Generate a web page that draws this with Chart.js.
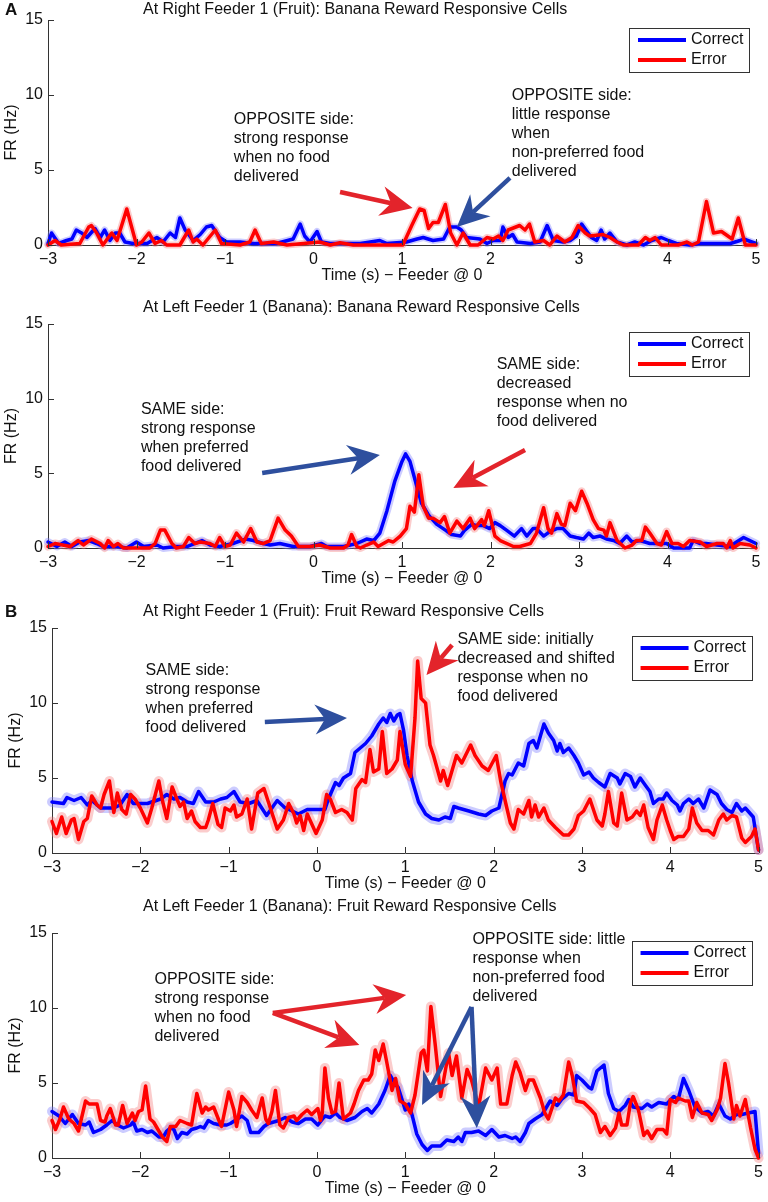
<!DOCTYPE html>
<html>
<head>
<meta charset="utf-8">
<script src="https://cdn.jsdelivr.net/npm/chart.js@4.4.1/dist/chart.umd.min.js"></script>
<style>
  body { margin: 0; background: #fff; }
  #fig { position: relative; width: 768px; height: 1202px; background: #fff; }
  #fig canvas { position: absolute; left: 0; }
</style>
</head>
<body>
<div id="fig">
  <canvas id="c1"></canvas>
  <canvas id="c2"></canvas>
  <canvas id="c3"></canvas>
  <canvas id="c4"></canvas>
</div>
<script>
// [time (s), firing rate (Hz)]
const rightBananaCorrect = [[-3,0.1],[-2.96,0.8],[-2.88,0.1],[-2.79,0.3],[-2.73,0.4],[-2.68,1.0],[-2.62,0.8],[-2.56,0.5],[-2.47,1.1],[-2.41,0.5],[-2.36,1.0],[-2.30,0.3],[-2.24,0.8],[-2.19,0.8],[-2.13,0.2],[-2.04,0.1],[-1.88,0.1],[-1.77,0.5],[-1.70,0.2],[-1.62,0.8],[-1.56,0.5],[-1.51,1.8],[-1.45,1.0],[-1.36,0.3],[-1.28,0.7],[-1.21,1.2],[-1.15,1.3],[-1.06,0.5],[-0.98,0.2],[-0.83,0.2],[-0.68,0.1],[-0.42,0.1],[-0.23,0.4],[-0.15,1.4],[-0.10,0.6],[-0.04,0.2],[0.04,0.9],[0.09,0.2],[0.19,0.1],[0.53,0.1],[0.75,0.3],[0.83,0.1],[1.05,0.2],[1.17,0.4],[1.24,0.5],[1.35,0.3],[1.47,0.4],[1.54,1.2],[1.62,1.2],[1.67,1.0],[1.73,0.5],[1.88,0.4],[1.96,0.1],[2.03,0.3],[2.11,0.3],[2.14,1.2],[2.20,0.5],[2.25,0.7],[2.30,0.2],[2.45,0.1],[2.56,0.2],[2.64,1.3],[2.71,0.3],[2.82,0.2],[2.90,0.3],[2.97,0.6],[3.03,1.4],[3.14,0.5],[3.20,0.3],[3.25,1.0],[3.29,0.4],[3.35,0.8],[3.43,0.2],[3.54,0],[3.63,0.2],[3.73,0],[3.82,0.3],[3.93,0.5],[4.01,0.3],[4.10,0.1],[4.25,0],[4.37,0.1],[4.71,0.1],[4.82,0.3],[4.86,0.4],[5,0.1]];
const rightBananaError = [[-3,0],[-2.92,0.3],[-2.85,0],[-2.64,0.1],[-2.54,1.2],[-2.51,1.3],[-2.45,0.8],[-2.38,0],[-2.28,0.8],[-2.22,0.3],[-2.11,2.4],[-2.0,0],[-1.94,0.2],[-1.86,0.8],[-1.79,0.1],[-1.72,0.3],[-1.66,0],[-1.51,0],[-1.41,1.0],[-1.36,0.2],[-1.32,0.4],[-1.25,0],[-1.11,1.0],[-1.04,0.1],[-0.83,0],[-0.72,0.2],[-0.66,1.0],[-0.59,0.1],[-0.45,0.2],[-0.30,0],[0.07,0.2],[0.19,0],[0.30,0.15],[0.45,0],[1.01,0],[1.11,1.3],[1.20,2.4],[1.25,2.3],[1.30,1.1],[1.35,1.5],[1.41,1.5],[1.49,2.7],[1.55,0.8],[1.62,0],[1.69,0.8],[1.77,0],[1.86,0],[1.96,0.5],[2.03,0.4],[2.09,0.6],[2.14,0.3],[2.20,1.0],[2.33,1.3],[2.39,1.0],[2.44,1.4],[2.50,0.2],[2.60,0.3],[2.67,0],[2.75,0.6],[2.84,0.2],[2.92,0.5],[2.99,1.3],[3.07,0.8],[3.12,0.6],[3.27,0.7],[3.35,0.5],[3.43,0.2],[3.50,0],[3.67,0],[3.75,0.5],[3.80,0.3],[3.86,0.5],[3.93,0],[4.12,0],[4.22,0.2],[4.28,0],[4.35,0.2],[4.44,2.9],[4.52,0.8],[4.61,0.9],[4.73,0.4],[4.80,1.8],[4.88,0],[5,0]];

const leftBananaCorrect = [[-3,0.4],[-2.90,0.1],[-2.81,0.4],[-2.73,0.1],[-2.64,0.4],[-2.54,0.5],[-2.45,0.3],[-2.38,0.1],[-2.22,0.1],[-2.11,0],[-2.0,0.4],[-1.92,0.1],[-1.77,0.2],[-1.70,0],[-1.55,0.1],[-1.43,0.1],[-1.26,0.5],[-1.17,0.2],[-1.06,0.1],[-0.91,0.3],[-0.77,0.6],[-0.68,0.5],[-0.57,0.3],[-0.49,0.2],[-0.38,0.3],[-0.23,0.1],[-0.04,0.1],[0.09,0.3],[0.15,0.1],[0.34,0.1],[0.49,0.3],[0.60,0.6],[0.68,0.5],[0.75,1.0],[0.83,2.5],[0.92,4.5],[1.0,5.8],[1.04,6.3],[1.09,5.8],[1.15,4.5],[1.22,3.0],[1.30,2.2],[1.39,1.6],[1.49,1.2],[1.56,0.9],[1.66,0.8],[1.71,1.2],[1.79,1.6],[1.84,1.5],[1.92,1.5],[1.99,1.3],[2.05,1.7],[2.11,1.5],[2.18,1.2],[2.27,0.8],[2.35,1.3],[2.41,0.8],[2.48,1.3],[2.52,1.3],[2.60,0.8],[2.67,1.1],[2.75,1.3],[2.82,1.3],[2.90,0.8],[2.97,0.7],[3.05,0.6],[3.11,1.0],[3.16,0.7],[3.24,0.8],[3.31,0.6],[3.39,0.5],[3.46,0.3],[3.54,0.8],[3.60,0.4],[3.69,0.5],[3.80,0.3],[3.92,0.3],[3.99,0.3],[4.07,0],[4.25,0],[4.29,0.5],[4.37,0.3],[4.44,0.3],[4.56,0.2],[4.71,0.1],[4.78,0.4],[4.86,0.7],[5,0.3]];
const leftBananaError = [[-3,0.1],[-2.92,0.3],[-2.75,0.1],[-2.66,0.5],[-2.60,0.2],[-2.51,0.6],[-2.41,0.3],[-2.36,0],[-2.32,0.5],[-2.26,0.1],[-2.21,0.3],[-2.15,0],[-1.85,0],[-1.79,0.3],[-1.73,1.2],[-1.68,1.2],[-1.60,0.3],[-1.55,0],[-1.47,0.1],[-1.41,0.7],[-1.34,0.3],[-1.28,0.4],[-1.17,0.3],[-1.11,0.1],[-1.06,0.7],[-1.0,0.1],[-0.94,0.2],[-0.87,1.0],[-0.79,0.4],[-0.71,1.3],[-0.64,0.4],[-0.57,0.3],[-0.49,0.5],[-0.40,2.0],[-0.32,1.2],[-0.25,0.8],[-0.17,0.1],[-0.04,0.1],[0.07,0.2],[0.19,0],[0.34,0],[0.39,0.2],[0.43,0.9],[0.49,0.1],[0.53,0],[0.60,0.2],[0.68,0.4],[0.73,0.1],[0.85,0.5],[0.90,0.4],[0.98,0.8],[1.05,1.3],[1.09,2.8],[1.14,2.4],[1.19,4.9],[1.24,2.8],[1.30,2.0],[1.35,2.0],[1.43,1.7],[1.48,2.1],[1.54,1.0],[1.62,1.8],[1.69,1.3],[1.77,2.0],[1.82,1.3],[1.90,1.9],[1.93,1.5],[1.98,2.5],[2.05,0.8],[2.11,0.5],[2.26,0.1],[2.33,0.1],[2.45,0.3],[2.52,1.0],[2.60,2.7],[2.65,1.3],[2.69,1.0],[2.75,2.3],[2.80,1.6],[2.84,1.5],[2.90,3.0],[2.96,2.5],[3.03,3.8],[3.09,3.0],[3.16,1.9],[3.22,1.3],[3.28,1.2],[3.31,0.8],[3.35,1.7],[3.43,0.5],[3.52,0],[3.60,0.2],[3.65,0.5],[3.71,0.5],[3.75,1.4],[3.80,1.0],[3.88,0.3],[3.93,0.2],[3.99,1.1],[4.05,0.3],[4.12,0.3],[4.18,0.1],[4.25,0.5],[4.37,0.4],[4.44,0.1],[4.56,0.3],[4.63,0.3],[4.67,0],[4.71,0.5],[4.74,0],[4.82,0.3],[4.93,0.2],[5,0]];

const rightFruitCorrect = [[-3,3.4],[-2.87,3.3],[-2.83,3.7],[-2.75,3.5],[-2.67,3.7],[-2.60,3.2],[-2.55,3.5],[-2.45,3.0],[-2.30,3.0],[-2.23,3.2],[-2.15,3.9],[-2.08,3.3],[-1.92,3.3],[-1.77,3.6],[-1.70,3.9],[-1.62,3.6],[-1.55,3.7],[-1.47,3.4],[-1.40,3.3],[-1.34,4.1],[-1.26,3.4],[-1.17,3.4],[-1.09,3.6],[-1.02,3.7],[-0.94,4.1],[-0.87,3.4],[-0.77,3.3],[-0.68,3.5],[-0.57,2.5],[-0.45,3.5],[-0.36,3.0],[-0.28,2.8],[-0.21,2.6],[-0.11,2.9],[0.04,2.9],[0.09,2.9],[0.13,3.6],[0.21,4.7],[0.25,4.5],[0.30,5.0],[0.38,5.3],[0.43,6.7],[0.49,7.0],[0.55,7.3],[0.62,7.8],[0.66,8.2],[0.70,8.6],[0.75,9.0],[0.79,8.7],[0.83,9.3],[0.87,8.8],[0.91,9.2],[0.94,9.3],[0.98,8.2],[1.02,6.5],[1.08,4.8],[1.15,3.4],[1.23,2.6],[1.30,2.3],[1.38,2.2],[1.45,2.4],[1.51,2.3],[1.55,3.1],[1.60,3.0],[1.72,2.8],[1.83,2.6],[1.91,2.5],[1.98,2.8],[2.06,3.0],[2.13,4.8],[2.17,5.3],[2.21,5.2],[2.28,6.0],[2.34,5.8],[2.40,7.3],[2.45,7.5],[2.49,7.0],[2.53,7.8],[2.57,8.6],[2.62,8.0],[2.68,7.5],[2.72,6.8],[2.75,7.3],[2.79,6.7],[2.85,7.0],[2.91,6.5],[2.96,6.0],[3.02,5.2],[3.08,5.4],[3.13,5.0],[3.19,4.7],[3.26,4.4],[3.32,5.3],[3.40,5.0],[3.43,4.6],[3.49,5.3],[3.55,5.1],[3.60,4.4],[3.66,5.0],[3.72,4.5],[3.77,4.1],[3.81,3.3],[3.87,3.6],[3.92,3.6],[3.96,4.0],[4.02,3.5],[4.08,3.2],[4.11,2.8],[4.15,3.3],[4.21,3.6],[4.26,3.3],[4.32,3.6],[4.38,3.0],[4.45,4.2],[4.53,3.9],[4.58,3.3],[4.64,2.9],[4.70,2.7],[4.75,3.3],[4.81,2.8],[4.85,3.0],[4.94,2.4],[5,0.2]];
const rightFruitError = [[-3,2.1],[-2.95,1.3],[-2.89,2.4],[-2.84,1.3],[-2.78,2.2],[-2.75,2.3],[-2.70,0.9],[-2.64,2.1],[-2.60,2.3],[-2.55,3.8],[-2.49,3.2],[-2.45,3.0],[-2.41,3.9],[-2.35,4.8],[-2.30,2.7],[-2.26,4.0],[-2.21,2.9],[-2.16,2.6],[-2.11,3.9],[-2.06,3.6],[-2.0,3.0],[-1.92,2.0],[-1.87,3.0],[-1.79,4.8],[-1.75,3.5],[-1.70,2.3],[-1.64,4.4],[-1.60,3.8],[-1.55,3.1],[-1.51,3.4],[-1.47,2.3],[-1.42,2.8],[-1.38,2.1],[-1.32,1.7],[-1.26,1.7],[-1.23,2.2],[-1.18,3.3],[-1.12,1.9],[-1.08,1.7],[-1.04,3.0],[-0.98,2.8],[-0.94,3.2],[-0.91,2.4],[-0.85,2.6],[-0.79,3.6],[-0.74,1.6],[-0.67,4.0],[-0.60,4.3],[-0.55,3.4],[-0.45,1.6],[-0.38,2.2],[-0.32,3.3],[-0.26,2.6],[-0.23,2.0],[-0.19,2.5],[-0.15,1.5],[-0.11,2.6],[-0.01,1.3],[0.06,2.2],[0.11,3.9],[0.15,3.6],[0.21,2.7],[0.28,2.9],[0.34,2.7],[0.40,2.2],[0.44,4.3],[0.51,4.9],[0.55,4.7],[0.60,6.9],[0.64,5.4],[0.70,5.6],[0.74,8.1],[0.79,5.3],[0.85,5.6],[0.91,6.2],[0.94,8.1],[1.0,5.9],[1.06,5.1],[1.11,9.0],[1.14,12.8],[1.18,10.3],[1.23,10.0],[1.28,7.2],[1.32,6.5],[1.40,4.8],[1.43,5.5],[1.48,4.5],[1.58,6.5],[1.64,6.0],[1.74,7.2],[1.79,6.5],[1.87,5.8],[1.94,5.5],[2.03,6.5],[2.08,4.8],[2.15,3.0],[2.19,2.0],[2.23,1.6],[2.28,2.9],[2.34,2.6],[2.40,3.5],[2.43,2.4],[2.47,3.2],[2.51,2.4],[2.57,3.0],[2.62,2.2],[2.70,1.7],[2.79,1.2],[2.85,1.2],[2.91,1.6],[2.96,2.5],[3.02,2.8],[3.09,3.6],[3.17,2.2],[3.23,1.8],[3.26,2.6],[3.30,4.1],[3.36,2.0],[3.40,1.8],[3.45,4.0],[3.51,2.2],[3.57,2.4],[3.62,2.8],[3.66,2.5],[3.70,3.2],[3.75,1.7],[3.81,0.9],[3.85,2.2],[3.91,3.2],[3.96,2.2],[4.0,1.5],[4.04,0.9],[4.09,1.1],[4.15,1.1],[4.21,1.6],[4.25,3.0],[4.30,2.0],[4.36,1.5],[4.43,1.5],[4.49,1.2],[4.55,2.2],[4.60,2.6],[4.64,2.2],[4.70,2.5],[4.75,2.4],[4.81,1.0],[4.85,0.7],[4.92,1.1],[4.96,1.6],[5,0.2]];

const leftFruitCorrect = [[-3,3.1],[-2.92,2.8],[-2.85,2.3],[-2.77,2.9],[-2.70,2.3],[-2.62,2.2],[-2.58,2.4],[-2.53,1.7],[-2.45,1.9],[-2.38,2.2],[-2.32,2.5],[-2.26,2.2],[-2.19,2.0],[-2.11,2.2],[-2.08,2.4],[-2.04,1.8],[-1.98,1.9],[-1.92,1.7],[-1.87,1.8],[-1.79,1.4],[-1.74,1.4],[-1.70,1.8],[-1.66,2.0],[-1.62,1.9],[-1.58,1.3],[-1.53,1.7],[-1.47,1.6],[-1.42,1.9],[-1.36,2.0],[-1.32,2.1],[-1.28,2.0],[-1.23,2.5],[-1.17,2.3],[-1.09,2.2],[-1.02,2.2],[-0.98,2.3],[-0.85,2.8],[-0.79,2.5],[-0.75,1.7],[-0.66,1.7],[-0.60,2.1],[-0.55,2.3],[-0.43,2.5],[-0.36,2.7],[-0.28,2.4],[-0.21,2.3],[-0.13,2.6],[-0.06,2.6],[0.01,2.2],[0.09,2.8],[0.15,2.7],[0.21,3.0],[0.26,2.7],[0.34,2.5],[0.43,2.7],[0.51,3.1],[0.57,3.3],[0.62,3.0],[0.70,3.6],[0.77,4.5],[0.83,5.5],[0.89,4.9],[0.92,4.7],[1.0,3.2],[1.04,3.6],[1.08,2.8],[1.13,1.6],[1.19,0.9],[1.25,0.5],[1.30,0.8],[1.40,0.8],[1.47,1.2],[1.55,1.1],[1.60,1.4],[1.64,1.1],[1.68,1.7],[1.75,1.7],[1.83,1.8],[1.91,1.5],[1.98,1.9],[2.06,1.4],[2.13,1.5],[2.21,1.3],[2.25,1.4],[2.30,1.1],[2.36,1.7],[2.40,2.3],[2.47,2.6],[2.55,2.9],[2.60,3.4],[2.64,3.8],[2.72,3.5],[2.77,3.9],[2.85,4.3],[2.91,4.2],[2.94,5.5],[3.0,5.2],[3.08,4.7],[3.11,4.6],[3.17,5.8],[3.25,6.2],[3.30,4.3],[3.36,3.3],[3.42,3.1],[3.49,3.5],[3.53,3.9],[3.58,3.4],[3.68,3.3],[3.74,3.6],[3.79,3.4],[3.87,3.7],[3.96,3.6],[4.04,4.1],[4.09,3.9],[4.15,5.3],[4.21,4.5],[4.28,3.4],[4.36,3.0],[4.43,3.1],[4.49,2.8],[4.55,3.6],[4.62,2.8],[4.68,2.6],[4.75,2.9],[4.81,2.9],[4.96,3.1],[5,0.3]];
const leftFruitError = [[-3,2.5],[-2.96,1.9],[-2.91,2.6],[-2.87,3.4],[-2.81,2.6],[-2.75,2.3],[-2.70,1.8],[-2.62,3.8],[-2.58,3.6],[-2.49,3.6],[-2.45,2.5],[-2.40,2.4],[-2.38,2.8],[-2.34,3.3],[-2.28,2.2],[-2.25,2.2],[-2.20,3.5],[-2.15,2.3],[-2.09,3.0],[-2.06,2.5],[-2.02,3.1],[-1.98,3.2],[-1.94,4.8],[-1.89,2.6],[-1.85,2.4],[-1.79,1.8],[-1.75,1.4],[-1.70,1.1],[-1.66,2.1],[-1.60,2.1],[-1.55,2.5],[-1.47,2.3],[-1.42,2.2],[-1.36,4.3],[-1.30,3.0],[-1.26,3.4],[-1.23,3.2],[-1.17,3.4],[-1.11,2.5],[-1.08,2.1],[-1.0,4.4],[-0.94,3.2],[-0.91,2.1],[-0.85,4.1],[-0.79,3.7],[-0.74,3.2],[-0.68,2.7],[-0.62,4.0],[-0.58,2.6],[-0.55,2.3],[-0.51,3.1],[-0.47,4.5],[-0.42,2.2],[-0.38,2.0],[-0.32,2.7],[-0.26,2.8],[-0.23,2.5],[-0.17,2.9],[-0.11,3.2],[-0.06,2.9],[0.01,3.3],[0.04,2.5],[0.06,3.0],[0.09,6.0],[0.13,4.0],[0.17,3.0],[0.21,3.1],[0.25,5.0],[0.30,2.6],[0.38,3.0],[0.42,3.6],[0.47,4.5],[0.53,5.2],[0.58,5.2],[0.62,5.6],[0.66,7.2],[0.70,6.5],[0.75,7.6],[0.79,6.4],[0.85,4.5],[0.89,5.3],[0.94,3.8],[1.0,3.6],[1.06,3.0],[1.11,4.2],[1.18,7.0],[1.21,7.2],[1.25,5.8],[1.29,10.1],[1.34,7.5],[1.40,4.1],[1.49,7.0],[1.53,5.5],[1.58,6.8],[1.64,4.0],[1.70,5.9],[1.75,5.2],[1.83,3.4],[1.91,6.0],[1.98,5.2],[2.04,6.0],[2.08,3.6],[2.15,3.6],[2.21,5.5],[2.25,6.4],[2.30,5.7],[2.36,4.5],[2.40,5.2],[2.45,5.2],[2.53,4.0],[2.58,3.0],[2.62,2.6],[2.66,3.3],[2.70,4.0],[2.74,3.8],[2.79,4.2],[2.85,6.4],[2.89,5.5],[2.94,3.8],[3.02,3.7],[3.09,3.3],[3.15,2.9],[3.21,1.7],[3.26,2.1],[3.32,1.5],[3.38,2.0],[3.42,3.0],[3.45,2.2],[3.51,2.2],[3.55,3.7],[3.58,4.1],[3.64,3.2],[3.70,1.5],[3.74,1.8],[3.79,1.3],[3.85,1.9],[3.92,1.9],[3.96,1.6],[4.0,3.9],[4.06,3.7],[4.09,4.0],[4.17,3.8],[4.21,3.8],[4.25,2.7],[4.30,3.7],[4.36,3.0],[4.43,2.9],[4.47,2.5],[4.53,3.2],[4.57,4.0],[4.62,6.3],[4.66,5.0],[4.72,2.6],[4.75,3.5],[4.79,2.8],[4.85,3.9],[4.91,2.0],[4.96,0.6],[5,0]];

const seriesNames = ['Correct', 'Error'];
const xTicks = [-3, -2, -1, 0, 1, 2, 3, 4, 5];
const yTicks = [0, 5, 10, 15];

const FONT = '"Liberation Sans", Arial, sans-serif';
const BLUE = '#0000ff', RED = '#ff0000';
const BLUE_BAND = 'rgba(120,120,255,0.38)', RED_BAND = 'rgba(245,120,120,0.38)';
const ARROW_RED = '#e3242b', ARROW_BLUE = '#2e4f9e';

// panel layout + annotations (annotation anchors are in data units)
const panels = [
  { id: 'c1', top: 0, h: 300, areaTop: 20, areaH: 225, left: 48, right: 12, band: 7, titleY: 10, letter: 'A',
    title: 'At Right Feeder 1 (Fruit): Banana Reward Responsive Cells',
    correct: rightBananaCorrect, error: rightBananaError,
    notes: [
      { t: -0.90, v: 8.33, lines: ['OPPOSITE side:', 'strong response', 'when no food', 'delivered'] },
      { t: 2.24, v: 9.93, lines: ['OPPOSITE side:', 'little response', 'when', 'non-preferred food', 'delivered'] }
    ],
    arrows: [
      { from: [0.30, 3.53], to: [1.12, 2.47], color: ARROW_RED },
      { from: [2.22, 4.47], to: [1.62, 1.2], color: ARROW_BLUE }
    ] },
  { id: 'c2', top: 300, h: 290, areaTop: 24, areaH: 224, left: 48, right: 12, band: 8, titleY: 8, letter: '',
    title: 'At Left Feeder 1 (Banana): Banana Reward Responsive Cells',
    correct: leftBananaCorrect, error: leftBananaError,
    notes: [
      { t: -1.95, v: 9.24, lines: ['SAME side:', 'strong response', 'when preferred', 'food delivered'] },
      { t: 2.07, v: 12.26, lines: ['SAME side:', 'decreased', 'response when no', 'food delivered'] }
    ],
    arrows: [
      { from: [-0.58, 5.02], to: [0.75, 6.23], color: ARROW_BLUE },
      { from: [2.39, 6.56], to: [1.58, 4.02], color: ARROW_RED }
    ] },
  { id: 'c3', top: 590, h: 303, areaTop: 38, areaH: 225, left: 52, right: 8, band: 10, titleY: 22, letter: 'B',
    title: 'At Right Feeder 1 (Fruit): Fruit Reward Responsive Cells',
    correct: rightFruitCorrect, error: rightFruitError,
    notes: [
      { t: -1.94, v: 12.13, lines: ['SAME side:', 'strong response', 'when preferred', 'food delivered'] },
      { t: 1.59, v: 14.2, lines: ['SAME side: initially', 'decreased and shifted', 'response when no', 'food delivered'] }
    ],
    arrows: [
      { from: [-0.59, 8.73], to: [0.34, 9.0], color: ARROW_BLUE },
      { from: [1.53, 13.87], to: [1.24, 11.87], color: ARROW_RED }
    ] },
  { id: 'c4', top: 893, h: 309, areaTop: 40, areaH: 225, left: 52, right: 8, band: 10, titleY: 14, letter: '',
    title: 'At Left Feeder 1 (Banana): Fruit Reward Responsive Cells',
    correct: leftFruitCorrect, error: leftFruitError,
    notes: [
      { t: -1.84, v: 11.87, lines: ['OPPOSITE side:', 'strong response', 'when no food', 'delivered'] },
      { t: 1.76, v: 14.53, lines: ['OPPOSITE side: little', 'response when', 'non-preferred food', 'delivered'] }
    ],
    arrows: [
      { from: [-0.50, 9.67], to: [1.01, 10.87], color: ARROW_RED },
      { from: [-0.50, 9.67], to: [0.48, 7.53], color: ARROW_RED },
      { from: [1.75, 10.07], to: [1.19, 3.53], color: ARROW_BLUE },
      { from: [1.75, 10.07], to: [1.81, 2.0], color: ARROW_BLUE }
    ] }
];

function toXY(arr) {
  return arr.map(p => ({ x: p[0], y: p[1] }));
}

function drawArrow(ctx, x1, y1, x2, y2, color) {
  const ang = Math.atan2(y2 - y1, x2 - x1);
  const hl = 32, hw = 15, notch = 22;
  const c = Math.cos(ang), s = Math.sin(ang);
  const bx = x2 - hl * c, by = y2 - hl * s;
  const nx = x2 - notch * c, ny = y2 - notch * s;
  ctx.strokeStyle = color;
  ctx.lineWidth = 4.5;
  ctx.lineCap = 'butt';
  ctx.beginPath();
  ctx.moveTo(x1, y1);
  ctx.lineTo(nx, ny);
  ctx.stroke();
  ctx.fillStyle = color;
  ctx.beginPath();
  ctx.moveTo(x2, y2);
  ctx.lineTo(bx + hw * s, by - hw * c);
  ctx.lineTo(nx, ny);
  ctx.lineTo(bx - hw * s, by + hw * c);
  ctx.closePath();
  ctx.fill();
}

function makeDecor(p) {
  return {
    id: 'decor_' + p.id,
    afterDraw(chart) {
      const { ctx, chartArea: a, scales: { x, y } } = chart;
      ctx.save();

      // inward tick marks
      ctx.strokeStyle = '#333';
      ctx.lineWidth = 1;
      xTicks.forEach(v => {
        const px = Math.round(x.getPixelForValue(v)) + 0.5;
        ctx.beginPath(); ctx.moveTo(px, a.bottom); ctx.lineTo(px, a.bottom - 6); ctx.stroke();
      });
      yTicks.forEach(v => {
        const py = Math.round(y.getPixelForValue(v)) + 0.5;
        ctx.beginPath(); ctx.moveTo(a.left, py); ctx.lineTo(a.left + 6, py); ctx.stroke();
      });

      ctx.fillStyle = '#111';
      ctx.font = '16px ' + FONT;
      ctx.textBaseline = 'middle';

      // title
      ctx.textAlign = 'left';
      ctx.fillText(p.title, 143, p.titleY);

      // panel letter
      if (p.letter) {
        ctx.font = 'bold 17px ' + FONT;
        ctx.fillText(p.letter, 5, p.titleY);
        ctx.font = '16px ' + FONT;
      }

      // axis titles
      ctx.textAlign = 'center';
      ctx.fillText('Time (s) \u2212 Feeder @ 0', (a.left + a.right) / 2, a.bottom + 31);
      ctx.save();
      ctx.translate(a.left - 36, (a.top + a.bottom) / 2);
      ctx.rotate(-Math.PI / 2);
      ctx.fillText('FR (Hz)', 0, 0);
      ctx.restore();

      // annotations
      ctx.textAlign = 'left';
      p.notes.forEach(n => {
        const nx = x.getPixelForValue(n.t), ny = y.getPixelForValue(n.v);
        n.lines.forEach((ln, i) => ctx.fillText(ln, nx, ny + i * 19));
      });
      p.arrows.forEach(ar => {
        drawArrow(ctx,
          x.getPixelForValue(ar.from[0]), y.getPixelForValue(ar.from[1]),
          x.getPixelForValue(ar.to[0]), y.getPixelForValue(ar.to[1]), ar.color);
      });

      // legend
      const bw = 120, bh = 44;
      const bx = a.right - 7 - bw, by = a.top + 8;
      ctx.fillStyle = '#fff';
      ctx.fillRect(bx, by, bw, bh);
      ctx.strokeStyle = '#333';
      ctx.lineWidth = 1;
      ctx.strokeRect(Math.round(bx) + 0.5, Math.round(by) + 0.5, bw, bh);
      [[BLUE, seriesNames[0]], [RED, seriesNames[1]]].forEach((it, i) => {
        const ly = by + 12 + i * 20;
        ctx.strokeStyle = it[0];
        ctx.lineWidth = 4;
        ctx.beginPath(); ctx.moveTo(bx + 9, ly); ctx.lineTo(bx + 57, ly); ctx.stroke();
        ctx.fillStyle = '#111';
        ctx.fillText(it[1], bx + 62, ly);
      });

      ctx.restore();
    }
  };
}

panels.forEach(p => {
  const cv = document.getElementById(p.id);
  cv.width = 768;
  cv.height = p.h;
  cv.style.top = p.top + 'px';
  cv.style.width = '768px';
  cv.style.height = p.h + 'px';

  new Chart(cv, {
    type: 'line',
    data: {
      datasets: [
        { label: seriesNames[1], data: toXY(p.error), borderColor: RED, borderWidth: 3.5, order: 0 },
        { label: seriesNames[0], data: toXY(p.correct), borderColor: BLUE, borderWidth: 3.5, order: 1 },
        { label: seriesNames[1] + ' sem', data: toXY(p.error), borderColor: RED_BAND, borderWidth: p.band, order: 2 },
        { label: seriesNames[0] + ' sem', data: toXY(p.correct), borderColor: BLUE_BAND, borderWidth: p.band, order: 3 }
      ]
    },
    options: {
      responsive: false,
      animation: false,
      layout: { padding: { top: p.areaTop, right: p.right, left: 0, bottom: 0 } },
      elements: {
        point: { radius: 0 },
        line: { tension: 0, borderJoinStyle: 'round', borderCapStyle: 'round', fill: false }
      },
      datasets: { line: { clip: 8 } },
      plugins: { legend: { display: false }, tooltip: { enabled: false } },
      scales: {
        x: {
          type: 'linear', min: -3, max: 5,
          grid: { display: false, drawTicks: false },
          border: { display: true, color: '#333', width: 1 },
          afterBuildTicks: s => { s.ticks = xTicks.map(v => ({ value: v })); },
          afterFit: s => { s.height = p.h - p.areaTop - p.areaH; },
          ticks: {
            padding: 5, color: '#111', maxRotation: 0,
            font: { size: 16, family: FONT },
            callback: v => String(v).replace('-', '\u2212')
          }
        },
        y: {
          type: 'linear', min: 0, max: 15,
          grid: { display: false, drawTicks: false },
          border: { display: true, color: '#333', width: 1 },
          afterBuildTicks: s => { s.ticks = yTicks.map(v => ({ value: v })); },
          afterFit: s => { s.width = p.left; },
          ticks: { padding: 5, color: '#111', font: { size: 16, family: FONT } }
        }
      }
    },
    plugins: [makeDecor(p)]
  });
});
</script>
</body>
</html>
